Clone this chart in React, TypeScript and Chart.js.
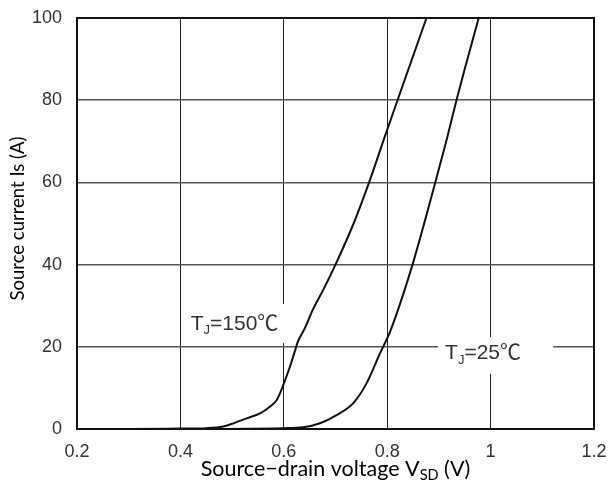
import React, { useEffect, useRef } from "react";
import { Chart, registerables } from "chart.js";
Chart.register(...registerables);

const xTickValues = [0.2, 0.4, 0.6, 0.8, 1.0, 1.2];
const yTickValues = [0, 20, 40, 60, 80, 100];

const v150 = [0.2, 0.3, 0.4, 0.45, 0.483, 0.505, 0.528, 0.554, 0.573, 0.586, 0.593, 0.599, 0.612, 0.622, 0.627, 0.641, 0.656, 0.676, 0.7, 0.735, 0.765, 0.795, 0.82, 0.848, 0.876];
const i150 = [0, 0, 0.1, 0.2, 0.6, 1.5, 2.6, 3.8, 5.4, 7.0, 8.8, 10.7, 15.2, 19.2, 21.2, 24.6, 29.0, 33.8, 40, 50, 60, 71, 80, 90, 100];

const v25 = [0.2, 0.4, 0.6, 0.637, 0.67, 0.702, 0.734, 0.76, 0.786, 0.805, 0.825, 0.849, 0.87, 0.893, 0.915, 0.934, 0.953, 0.977];
const i25 = [0, 0, 0.2, 0.4, 1.4, 3.4, 6.25, 11.1, 18.4, 23.5, 30.5, 40, 49.3, 60, 70.4, 80, 89, 100];

const xTitle = ["Source\u2212drain voltage V", "SD", " (V)"];
const yTitle = "Source current Is (A)";

const curveLabels = [
  { main: "T", sub: "J", rest: "=150\u2103", x: 0.42, y: 25.6, box: [0.405, 0.612, 30.4, 20.9] },
  { main: "T", sub: "J", rest: "=25\u2103", x: 0.912, y: 18.4, box: [0.898, 1.121, 22.4, 13.4] },
];

const LABEL_FONT = '"Liberation Sans", "Noto Sans CJK SC", sans-serif';
const TITLE_FONT = 'Lato, "Open Sans", sans-serif';

const decorPlugin = {
  id: "decor",
  beforeDatasetsDraw(chart: any) {
    const { ctx, chartArea, scales } = chart;
    const xs = scales.x, ys = scales.y;
    ctx.save();
    for (const l of curveLabels) {
      const x0 = xs.getPixelForValue(l.box[0]);
      const x1 = xs.getPixelForValue(l.box[1]);
      const y0 = ys.getPixelForValue(l.box[2]);
      const y1 = ys.getPixelForValue(l.box[3]);
      ctx.fillStyle = "#ffffff";
      ctx.fillRect(x0, y0, x1 - x0, y1 - y0);
    }
    ctx.strokeStyle = "#111";
    ctx.lineWidth = 2;
    ctx.strokeRect(chartArea.left, chartArea.top, chartArea.right - chartArea.left, chartArea.bottom - chartArea.top);
    ctx.fillStyle = "#333";
    ctx.textBaseline = "middle";
    ctx.textAlign = "left";
    for (const l of curveLabels) {
      let x = xs.getPixelForValue(l.x);
      const y = ys.getPixelForValue(l.y);
      ctx.font = `21px ${LABEL_FONT}`;
      ctx.fillText(l.main, x, y);
      x += ctx.measureText(l.main).width;
      ctx.font = `13px ${LABEL_FONT}`;
      ctx.fillText(l.sub, x, y + 7);
      x += ctx.measureText(l.sub).width;
      ctx.font = `21px ${LABEL_FONT}`;
      ctx.fillText(l.rest, x, y);
    }
    ctx.restore();
  },
  afterDraw(chart: any) {
    const { ctx, chartArea } = chart;
    ctx.save();
    ctx.fillStyle = "#000";
    ctx.textBaseline = "alphabetic";
    ctx.textAlign = "left";
    const big = `21.5px ${TITLE_FONT}`;
    const small = `14.5px ${TITLE_FONT}`;
    ctx.font = big;
    const w0 = ctx.measureText(xTitle[0]).width;
    const w2 = ctx.measureText(xTitle[2]).width;
    ctx.font = small;
    const w1 = ctx.measureText(xTitle[1]).width;
    const total = w0 + w1 + w2;
    const cx = (chartArea.left + chartArea.right) / 2;
    let x = cx - total / 2;
    const base = 476;
    ctx.font = big;
    ctx.fillText(xTitle[0], x, base);
    x += w0;
    ctx.font = small;
    ctx.fillText(xTitle[1], x, base + 4);
    x += w1;
    ctx.font = big;
    ctx.fillText(xTitle[2], x, base);
    ctx.translate(18, (chartArea.top + chartArea.bottom) / 2 - 5);
    ctx.rotate(-Math.PI / 2);
    ctx.textAlign = "center";
    ctx.textBaseline = "middle";
    ctx.font = `18.5px ${TITLE_FONT}`;
    ctx.fillText(yTitle, 0, 0);
    ctx.restore();
  },
};

export default function App() {
  const ref = useRef<HTMLCanvasElement | null>(null);
  useEffect(() => {
    if (!ref.current) return;
    const chart = new Chart(ref.current, {
      type: "line",
      data: {
        datasets: [
          {
            label: "TJ=150",
            data: v150.map((v, i) => ({ x: v, y: i150[i] })),
            borderColor: "#111",
            borderWidth: 2,
            pointRadius: 0,
            cubicInterpolationMode: "monotone",
            fill: false,
          },
          {
            label: "TJ=25",
            data: v25.map((v, i) => ({ x: v, y: i25[i] })),
            borderColor: "#111",
            borderWidth: 2,
            pointRadius: 0,
            cubicInterpolationMode: "monotone",
            fill: false,
          },
        ],
      },
      options: {
        animation: false,
        responsive: false,
        events: [],
        layout: { padding: { left: 0, right: 16, top: 18, bottom: 0 } },
        plugins: { legend: { display: false }, tooltip: { enabled: false } },
        scales: {
          x: {
            type: "linear",
            min: 0.2,
            max: 1.2,
            afterBuildTicks: (s: any) => {
              s.ticks = xTickValues.map((v) => ({ value: v }));
            },
            afterFit: (s: any) => {
              s.height = 61;
              s.paddingLeft = 0;
              s.paddingRight = 0;
            },
            ticks: {
              color: "#333",
              font: { family: LABEL_FONT, size: 18 },
              padding: 12,
              maxRotation: 0,
              callback: (v: any) => String(Math.round(Number(v) * 10) / 10),
            },
            grid: { color: "#222", lineWidth: 1, drawTicks: false },
            border: { display: false },
          },
          y: {
            type: "linear",
            min: 0,
            max: 100,
            afterBuildTicks: (s: any) => {
              s.ticks = yTickValues.map((v) => ({ value: v }));
            },
            afterFit: (s: any) => {
              s.width = 77;
              s.paddingTop = 0;
              s.paddingBottom = 0;
            },
            ticks: {
              color: "#333",
              font: { family: LABEL_FONT, size: 18 },
              padding: 15,
            },
            grid: { color: "#555", lineWidth: 1.5, drawTicks: false },
            border: { display: false },
          },
        },
      },
      plugins: [decorPlugin],
    } as any);
    return () => chart.destroy();
  }, []);
  return (
    <div style={{ position: "absolute", left: 0, top: 0, width: 610, height: 490, background: "#fff" }}>
      <canvas ref={ref} width={610} height={490} style={{ width: 610, height: 490 }} />
    </div>
  );
}
